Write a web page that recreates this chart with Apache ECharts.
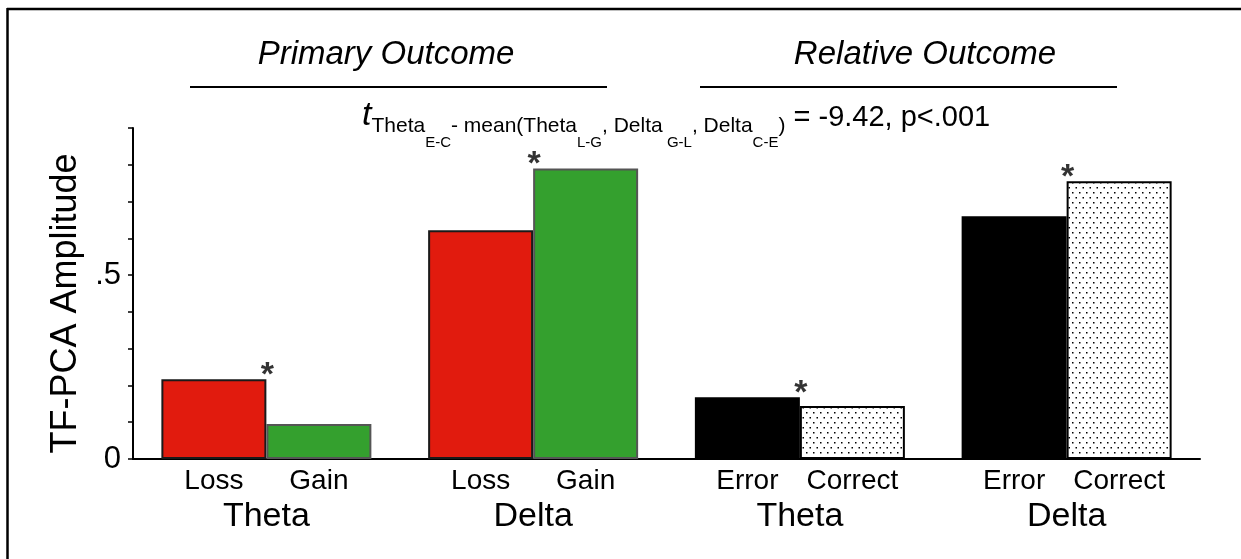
<!DOCTYPE html>
<html>
<head>
<meta charset="utf-8">
<title>TF-PCA Amplitude</title>
<script src="https://cdn.jsdelivr.net/npm/echarts@6/dist/echarts.min.js"></script>
<style>
  html, body { margin: 0; padding: 0; background: #fff; }
  #main { width: 1241px; height: 559px; }
</style>
</head>
<body>
<div id="main"></div>
<script type="text/javascript">
// values
var groups = ['Theta', 'Delta', 'Theta', 'Delta'];
var firstLabels = ['Loss', 'Loss', 'Error', 'Error'];
var secondLabels = ['Gain', 'Gain', 'Correct', 'Correct'];
var firstValues = [0.217, 0.622, 0.168, 0.660];
var secondValues = [0.095, 0.790, 0.144, 0.755];
var yTickLabels = { '0': '0', '0.5': '.5' };

var font = 'Liberation Sans';

// dotted fill for the "Correct" bars
var dots = document.createElement('canvas');
dots.width = 7;
dots.height = 10;
var dctx = dots.getContext('2d');
dctx.fillStyle = '#fff';
dctx.fillRect(0, 0, 7, 10);
dctx.fillStyle = '#000';
dctx.fillRect(1, 2, 1.5, 1.5);
dctx.fillRect(4.5, 7, 1.5, 1.5);

function firstStyle(i) {
  if (i < 2) return { color: '#e11b0e', borderColor: '#1a1a1a', borderWidth: 2 };
  return { color: '#000', borderColor: '#000', borderWidth: 2 };
}
function secondStyle(i) {
  if (i < 2) return { color: '#34a02e', borderColor: '#555', borderWidth: 2 };
  return { color: { image: dots, repeat: 'repeat' }, borderColor: '#000', borderWidth: 2 };
}

var myChart = echarts.init(document.getElementById('main'));

var option = {
  animation: false,
  backgroundColor: '#fff',
  grid: { left: 133, right: 41, top: 128, bottom: 100, outerBoundsMode: 'none' },
  xAxis: {
    type: 'category',
    data: groups,
    axisLine: { show: true, lineStyle: { color: '#000', width: 2 } },
    axisTick: { show: false },
    axisLabel: { color: '#000', fontSize: 34, fontFamily: font, margin: 41 },
    splitLine: { show: false }
  },
  yAxis: {
    type: 'value',
    min: 0,
    max: 0.9,
    interval: 0.1,
    name: 'TF-PCA Amplitude',
    nameLocation: 'middle',
    nameGap: 46,
    nameTextStyle: { color: '#000', fontSize: 36, fontFamily: font, padding: [0, 20, 0, 0] },
    axisLine: { show: true, lineStyle: { color: '#000', width: 2 } },
    axisTick: { show: true, length: 5, lineStyle: { color: '#000', width: 1.5 } },
    axisLabel: {
      color: '#000', fontSize: 31, fontFamily: font, margin: 12,
      formatter: function (v) {
        var k = String(Math.round(v * 10) / 10);
        return yTickLabels[k] || '';
      }
    },
    splitLine: { show: false }
  },
  series: [
    {
      name: 'first',
      type: 'bar',
      barWidth: 105,
      barGap: '0%',
      data: firstValues.map(function (v, i) { return { value: v, itemStyle: firstStyle(i) }; }),
      label: {
        show: true, position: 'bottom', distance: 8,
        color: '#000', fontSize: 28, fontFamily: font,
        formatter: function (p) { return firstLabels[p.dataIndex]; }
      }
    },
    {
      name: 'second',
      type: 'bar',
      barWidth: 105,
      barGap: '0%',
      data: secondValues.map(function (v, i) { return { value: v, itemStyle: secondStyle(i) }; }),
      label: {
        show: true, position: 'bottom', distance: 8,
        color: '#000', fontSize: 28, fontFamily: font,
        formatter: function (p) { return secondLabels[p.dataIndex]; }
      }
    },
    {
      // significance stars on the taller bar of each pair
      name: 'sig',
      type: 'scatter',
      silent: true,
      symbolSize: 1,
      itemStyle: { color: 'rgba(0,0,0,0)' },
      z: 5,
      data: groups.map(function (g, i) { return [i, Math.max(firstValues[i], secondValues[i])]; }),
      label: {
        show: true, position: 'top', distance: 0, offset: [1, 14],
        color: '#000', fontSize: 34, fontWeight: 'bold', fontFamily: font,
        formatter: '*'
      }
    }
  ],
  graphic: [
    { type: 'line', shape: { x1: 7, y1: 9, x2: 1241, y2: 9 }, style: { stroke: '#000', lineWidth: 2.5 } },
    { type: 'line', shape: { x1: 7.5, y1: 8, x2: 7.5, y2: 559 }, style: { stroke: '#000', lineWidth: 2.5 } },
    {
      type: 'text', x: 386, y: 55,
      style: { text: 'Primary Outcome', fontSize: 33, fontStyle: 'italic', fontFamily: font,
               fill: '#000', align: 'center', verticalAlign: 'middle' }
    },
    {
      type: 'text', x: 925, y: 55,
      style: { text: 'Relative Outcome', fontSize: 33, fontStyle: 'italic', fontFamily: font,
               fill: '#000', align: 'center', verticalAlign: 'middle' }
    },
    { type: 'line', shape: { x1: 190, y1: 87, x2: 607, y2: 87 }, style: { stroke: '#000', lineWidth: 2 } },
    { type: 'line', shape: { x1: 700, y1: 87, x2: 1117, y2: 87 }, style: { stroke: '#000', lineWidth: 2 } },
    {
      type: 'text', x: 362, y: 99,
      style: {
        text: '{t|t}{s|Theta}{ss|E-C}{s|- mean(Theta}{ss|L-G}{s|, Delta}{ss| G-L}{s|, Delta}{ss|C-E}{s|)}{m| = -9.42, p<.001}',
        fontFamily: font,
        fill: '#000',
        rich: {
          t: { fontSize: 34, fontStyle: 'italic', lineHeight: 36, verticalAlign: 'top', fontFamily: font },
          s: { fontSize: 21, lineHeight: 22, verticalAlign: 'top', padding: [17, 0, 0, 0], fontFamily: font },
          ss: { fontSize: 15, lineHeight: 16, verticalAlign: 'top', padding: [36, 0, 0, 0], fontFamily: font },
          m: { fontSize: 29, lineHeight: 30, verticalAlign: 'top', padding: [4, 0, 0, 0], fontFamily: font }
        }
      }
    }
  ]
};

myChart.setOption(option);
</script>
</body>
</html>
